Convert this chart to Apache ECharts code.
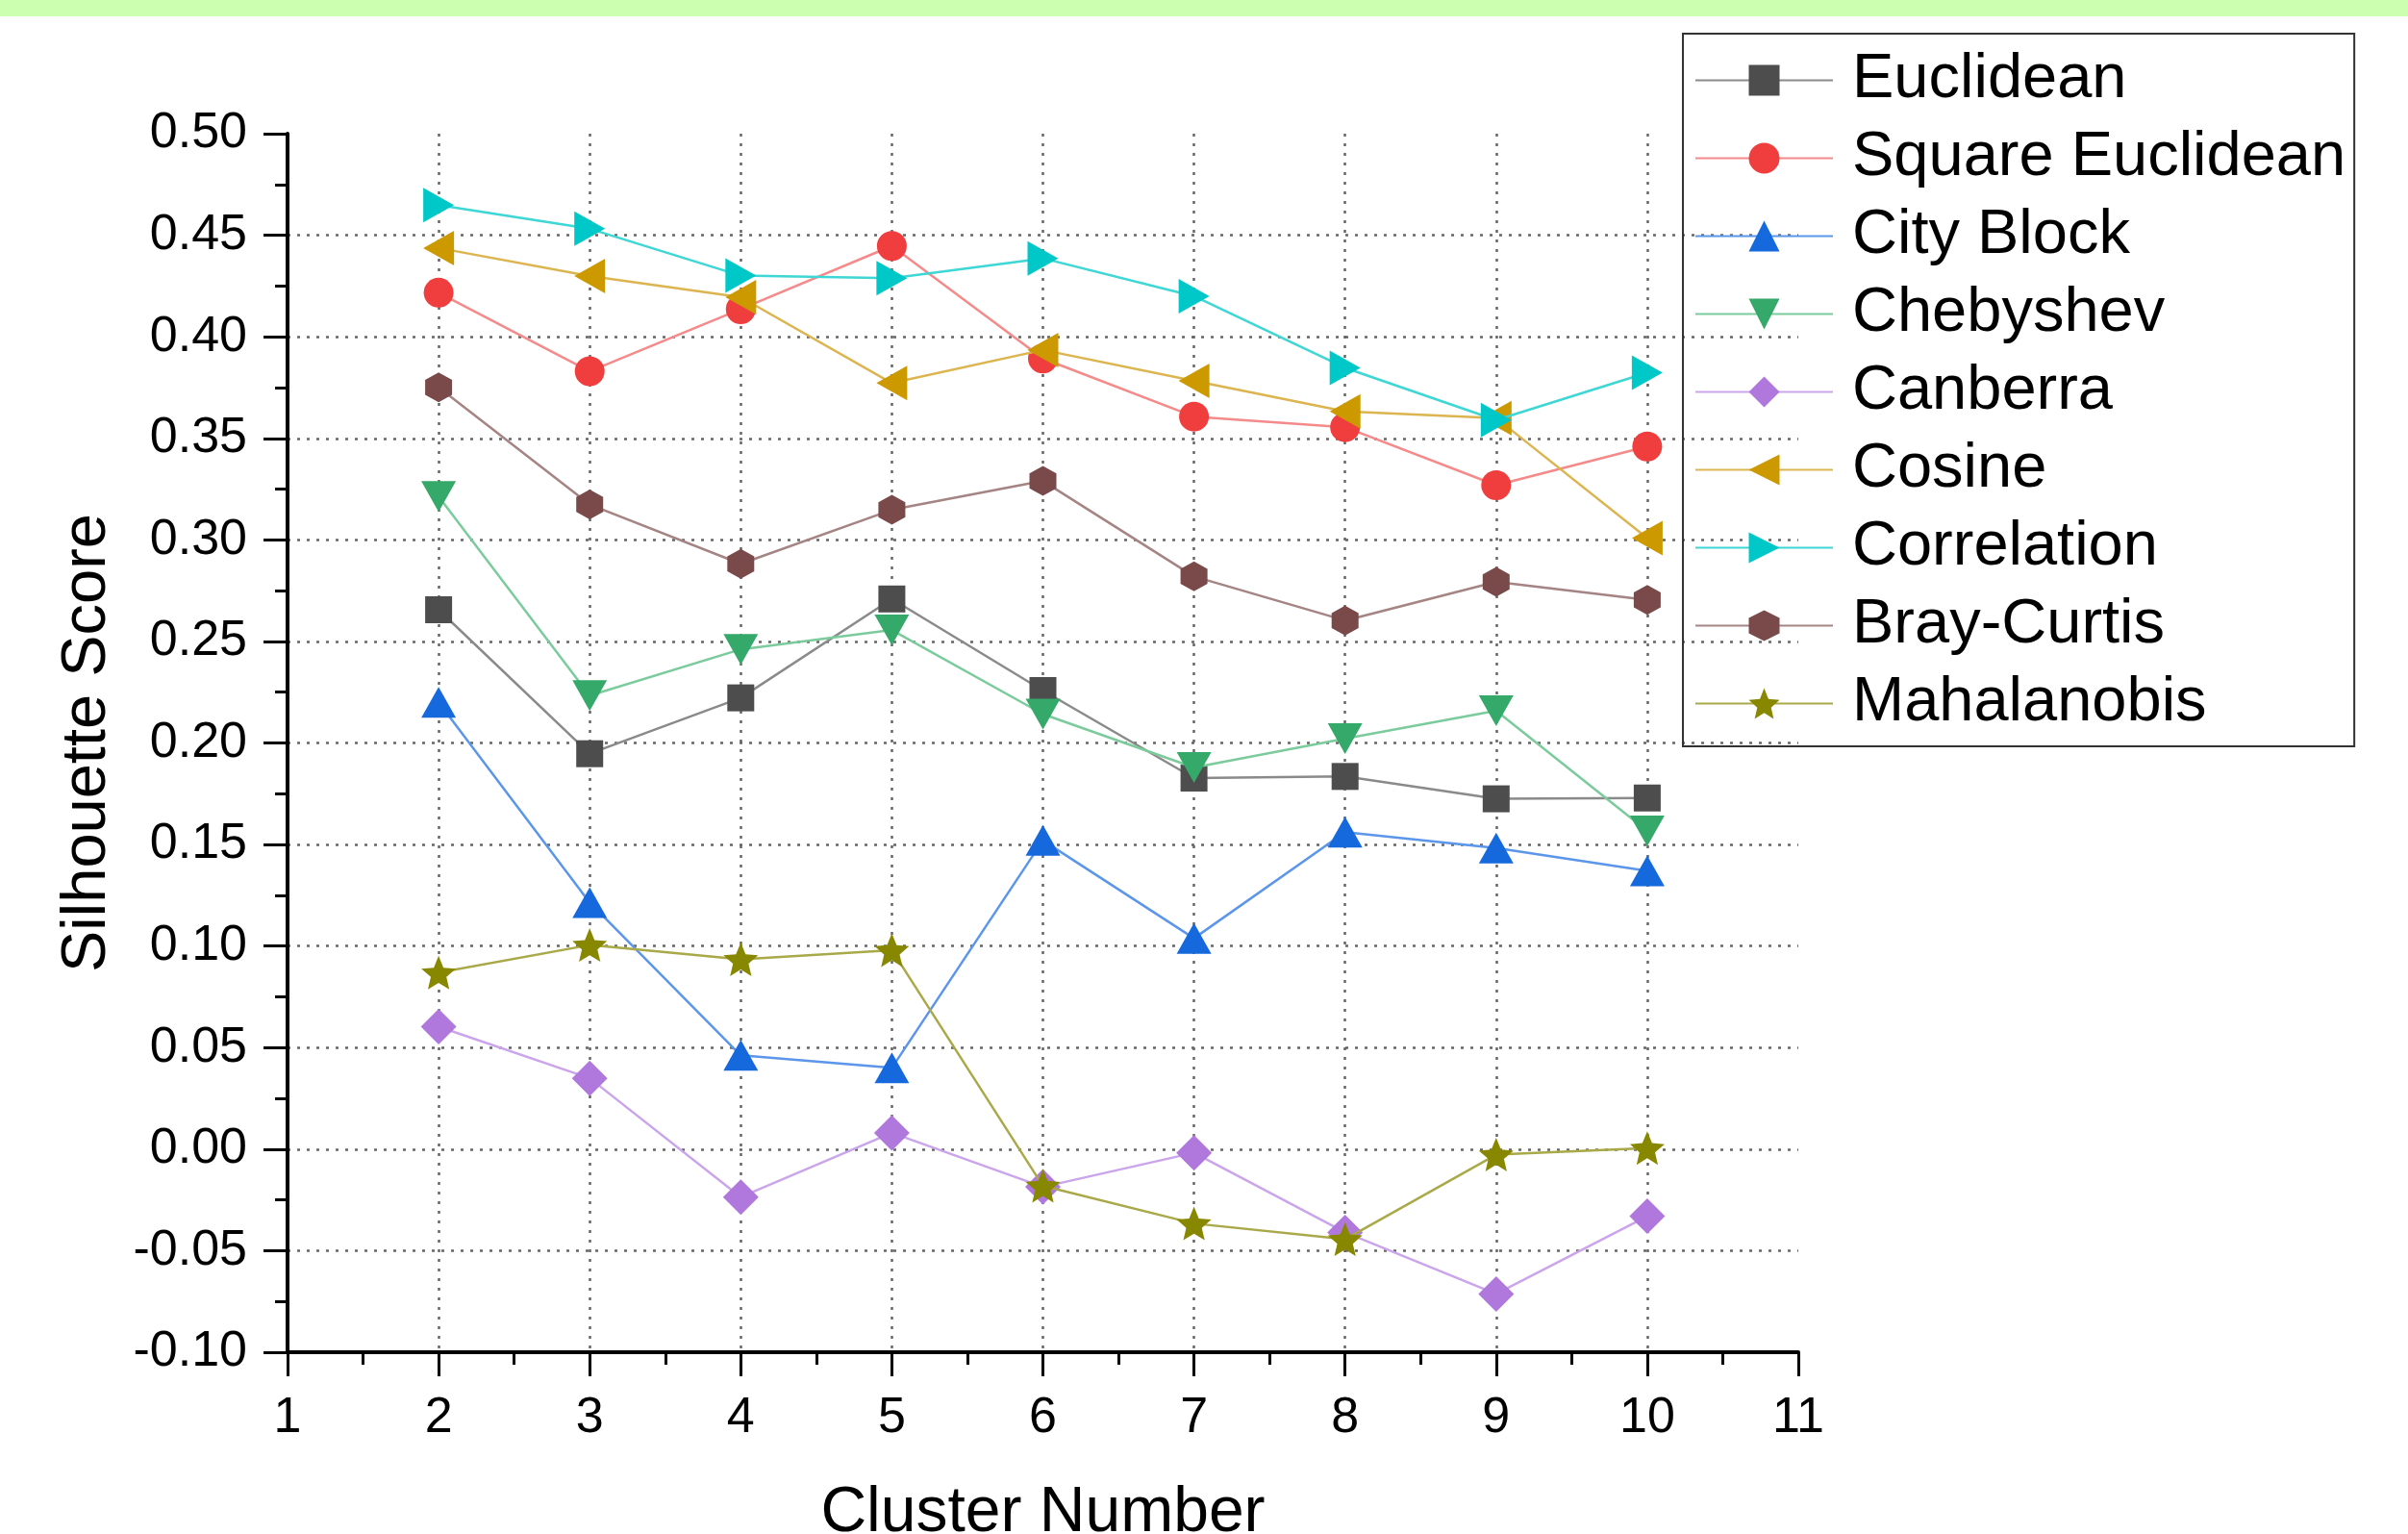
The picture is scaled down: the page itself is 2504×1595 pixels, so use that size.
<!DOCTYPE html>
<html>
<head>
<meta charset="utf-8">
<script src="https://cdn.jsdelivr.net/npm/echarts@6/dist/echarts.min.js"></script>
<style>
html,body{margin:0;padding:0;background:#fff;overflow:hidden;}
#c{width:2504px;height:1595px;}
</style>
</head>
<body>
<div id="c"></div>
<script>
const clusters = [2, 3, 4, 5, 6, 7, 8, 9, 10];
const euclidean = [0.2656, 0.1947, 0.2222, 0.2709, 0.2258, 0.1827, 0.1835, 0.1725, 0.1729];
const squareEuclidean = [0.4217, 0.3830, 0.4136, 0.4447, 0.3893, 0.3607, 0.3555, 0.3269, 0.3460];
const cityBlock = [0.2200, 0.1214, 0.0462, 0.0400, 0.1520, 0.1038, 0.1561, 0.1483, 0.1370];
const chebyshev = [0.3214, 0.2233, 0.2461, 0.2556, 0.2142, 0.1879, 0.2021, 0.2159, 0.1567];
const canberra = [0.0603, 0.0349, -0.0236, 0.0080, -0.0186, -0.0018, -0.0410, -0.0713, -0.0330];
const cosine = [0.4437, 0.4299, 0.4195, 0.3772, 0.3935, 0.3783, 0.3633, 0.3600, 0.3009];
const correlation = [0.4648, 0.4532, 0.4301, 0.4288, 0.4386, 0.4200, 0.3847, 0.3590, 0.3823];
const brayCurtis = [0.3751, 0.3174, 0.2882, 0.3148, 0.3290, 0.2820, 0.2603, 0.2793, 0.2704];
const mahalanobis = [0.0869, 0.1005, 0.0935, 0.0980, -0.0181, -0.0366, -0.0444, -0.0027, 0.0005];
const seriesNames = ['Euclidean', 'Square Euclidean', 'City Block', 'Chebyshev', 'Canberra', 'Cosine', 'Correlation', 'Bray-Curtis', 'Mahalanobis'];
const xTicks = [1, 2, 3, 4, 5, 6, 7, 8, 9, 10, 11];

const FONT = '"Liberation Sans", Arial, sans-serif';
const HEX = 'path://M0,-1 L0.866,-0.5 L0.866,0.5 L0,1 L-0.866,0.5 L-0.866,-0.5 Z';
const STAR = 'path://M0,-1 L0.2645,-0.3641 L0.9511,-0.309 L0.428,0.1391 L0.5878,0.809 L0,0.45 L-0.5878,0.809 L-0.428,0.1391 L-0.9511,-0.309 L-0.2645,-0.3641 Z';

const styles = [
  {data: euclidean, marker: '#4d4d4d', line: '#8a8a8a', symbol: 'rect', size: 28, rot: 0},
  {data: squareEuclidean, marker: '#f03e3e', line: '#f58a8a', symbol: 'circle', size: 31, rot: 0},
  {data: cityBlock, marker: '#1569dc', line: '#5b96ea', symbol: 'triangle', size: [36, 32], rot: 0},
  {data: chebyshev, marker: '#34a96a', line: '#7ccb9c', symbol: 'triangle', size: [36, 32], rot: 180},
  {data: canberra, marker: '#b077dc', line: '#cba5ec', symbol: 'diamond', size: 37, rot: 0},
  {data: cosine, marker: '#cc9900', line: '#dcb550', symbol: 'triangle', size: [36, 32], rot: 90},
  {data: correlation, marker: '#00c8c8', line: '#3fd6d6', symbol: 'triangle', size: [36, 32], rot: -90},
  {data: brayCurtis, marker: '#7a4a4a', line: '#a58484', symbol: HEX, size: [28, 31], rot: 0},
  {data: mahalanobis, marker: '#888800', line: '#a9a94a', symbol: STAR, size: [36, 35], rot: 0}
];

const series = styles.map((s, i) => ({
  name: seriesNames[i],
  type: 'line',
  data: clusters.map((c, j) => [c, s.data[j]]),
  symbol: s.symbol,
  symbolSize: s.size,
  symbolRotate: s.rot,
  showAllSymbol: true,
  lineStyle: {color: s.line, width: 2.5},
  itemStyle: {color: s.marker},
  emphasis: {disabled: true},
  animation: false,
  z: 3 + i
}));

const chart = echarts.init(document.getElementById('c'));
chart.setOption({
  backgroundColor: '#ffffff',
  animation: false,
  graphic: [{
    type: 'rect', left: 0, top: 0, z: 100,
    shape: {x: 0, y: 0, width: 2504, height: 17},
    style: {fill: '#ccffb0'}
  }],
  grid: {left: 299, width: 1571, top: 139, height: 1267, containLabel: false, outerBoundsMode: 'none'},
  legend: {
    orient: 'vertical',
    left: 1750, top: 35,
    padding: [16, 9, 12, 12],
    itemWidth: 143, itemHeight: 40, itemGap: 16,
    borderColor: '#333', borderWidth: 2,
    selectedMode: false,
    textStyle: {fontFamily: FONT, fontSize: 65, color: '#000', lineHeight: 65, padding: [0, 0, 0, 15]},
    data: seriesNames
  },
  xAxis: {
    type: 'value', min: 1, max: 11, interval: 1,
    name: 'Cluster Number', nameLocation: 'middle', nameGap: 135,
    nameTextStyle: {fontFamily: FONT, fontSize: 66, color: '#000'},
    axisLine: {onZero: false, lineStyle: {color: '#000', width: 4}},
    axisTick: {show: true, inside: false, length: 25, lineStyle: {color: '#000', width: 3}},
    minorTick: {show: true, splitNumber: 2, length: 13, lineStyle: {color: '#000', width: 3}},
    axisLabel: {fontFamily: FONT, fontSize: 52, color: '#000', margin: 43,
      formatter: v => xTicks.includes(v) ? String(v) : ''},
    splitLine: {show: true, showMinLine: false, showMaxLine: false,
      lineStyle: {color: '#666', width: 2.5, type: [3, 7]}}
  },
  yAxis: {
    type: 'value', min: -0.1, max: 0.5, interval: 0.05,
    name: 'Silhouette Score', nameLocation: 'middle', nameGap: 175,
    nameTextStyle: {fontFamily: FONT, fontSize: 65, color: '#000'},
    axisLine: {show: true, onZero: false, lineStyle: {color: '#000', width: 4}},
    axisTick: {show: true, inside: false, length: 25, lineStyle: {color: '#000', width: 3}},
    minorTick: {show: true, splitNumber: 2, length: 13, lineStyle: {color: '#000', width: 3}},
    axisLabel: {fontFamily: FONT, fontSize: 52, color: '#000', margin: 42,
      formatter: v => v.toFixed(2)},
    splitLine: {show: true, showMinLine: false, showMaxLine: false,
      lineStyle: {color: '#666', width: 2.5, type: [3, 7]}}
  },
  series: series
});
</script>
</body>
</html>
